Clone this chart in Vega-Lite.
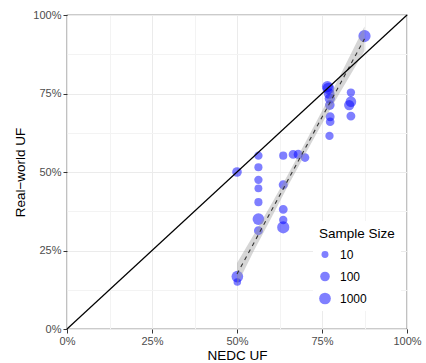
{
  "$schema": "https://vega.github.io/schema/vega-lite/v6.json",
  "width": 340,
  "height": 314,
  "autosize": {"type": "none"},
  "padding": {"left": 67, "top": 15, "right": 19, "bottom": 34},
  "background": "white",
  "config": {
    "font": "Liberation Sans",
    "view": {"stroke": "#333333", "strokeWidth": 1.2},
    "axis": {
      "domain": false,
      "labelFont": "Liberation Sans",
      "labelFontSize": 11,
      "labelColor": "#4d4d4d",
      "tickColor": "#333333",
      "tickSize": 4,
      "labelPadding": 2,
      "titleFont": "Liberation Sans",
      "titleFontSize": 13.5,
      "titleFontWeight": "normal",
      "titleColor": "#000000"
    }
  },
  "datasets": {
    "points": [
      {"x": 50, "y": 50, "n": 100},
      {"x": 56.3, "y": 55.2, "n": 30},
      {"x": 56.3, "y": 51.5, "n": 25},
      {"x": 56.3, "y": 47.5, "n": 30},
      {"x": 56.3, "y": 44.8, "n": 20},
      {"x": 56.3, "y": 40.4, "n": 25},
      {"x": 56.3, "y": 35, "n": 1000},
      {"x": 56.3, "y": 31.3, "n": 50},
      {"x": 63.6, "y": 55.2, "n": 25},
      {"x": 63.6, "y": 45.9, "n": 60},
      {"x": 63.6, "y": 38.1, "n": 50},
      {"x": 63.6, "y": 34.7, "n": 30},
      {"x": 63.6, "y": 32.4, "n": 2000},
      {"x": 66.5, "y": 55.6, "n": 50},
      {"x": 68, "y": 55.6, "n": 60},
      {"x": 70, "y": 54.6, "n": 40},
      {"x": 50.1, "y": 16.7, "n": 1000},
      {"x": 50.1, "y": 15, "n": 15},
      {"x": 87.5, "y": 93.3, "n": 2000},
      {"x": 76.9, "y": 76.6, "n": 1000},
      {"x": 76.6, "y": 77.2, "n": 500},
      {"x": 77.1, "y": 75, "n": 300},
      {"x": 77.3, "y": 73.4, "n": 200},
      {"x": 77.3, "y": 71.3, "n": 100},
      {"x": 77.4, "y": 67.6, "n": 50},
      {"x": 77.4, "y": 66, "n": 40},
      {"x": 77.2, "y": 61.5, "n": 30},
      {"x": 83.5, "y": 75.3, "n": 30},
      {"x": 83.5, "y": 72.4, "n": 300},
      {"x": 83, "y": 71.3, "n": 200},
      {"x": 83.5, "y": 67.8, "n": 50}
    ],
    "band": [
      {"x": 50, "y": 14, "y2": 21},
      {"x": 55, "y": 25, "y2": 30.2},
      {"x": 60, "y": 35.2, "y2": 39.6},
      {"x": 65, "y": 45.6, "y2": 49.2},
      {"x": 70, "y": 55.6, "y2": 59.2},
      {"x": 75, "y": 65.4, "y2": 69.4},
      {"x": 80, "y": 74.8, "y2": 80},
      {"x": 87.5, "y": 88.5, "y2": 96.3}
    ],
    "fit": [
      {"x": 50, "y": 17.5},
      {"x": 87.5, "y": 92.4}
    ],
    "diag": [
      {"x": 0, "y": 0},
      {"x": 100, "y": 100}
    ]
  },
  "encoding": {
    "x": {
      "field": "x",
      "type": "quantitative",
      "scale": {"domain": [0, 100], "nice": false, "zero": false},
      "axis": {
        "title": "NEDC UF",
        "values": [0, 12.5, 25, 37.5, 50, 62.5, 75, 87.5, 100],
        "labelExpr": "datum.value % 25 === 0 ? datum.value + '%' : ''",
        "tickOpacity": {"condition": {"test": "datum.value % 25 === 0", "value": 1}, "value": 0},
        "gridColor": {"condition": {"test": "datum.value % 25 === 0", "value": "#ebebeb"}, "value": "#f3f3f3"},
        "titlePadding": 2,
        "labelFlush": false
      }
    },
    "y": {
      "field": "y",
      "type": "quantitative",
      "scale": {"domain": [0, 100], "nice": false, "zero": false},
      "axis": {
        "title": "Real−world UF",
        "values": [0, 12.5, 25, 37.5, 50, 62.5, 75, 87.5, 100],
        "labelExpr": "datum.value % 25 === 0 ? datum.value + '%' : ''",
        "tickOpacity": {"condition": {"test": "datum.value % 25 === 0", "value": 1}, "value": 0},
        "gridColor": {"condition": {"test": "datum.value % 25 === 0", "value": "#ebebeb"}, "value": "#f3f3f3"},
        "titlePadding": 5,
        "labelFlush": false
      }
    }
  },
  "layer": [
    {
      "data": {"name": "points"},
      "mark": {"type": "circle", "color": "#0000ff", "opacity": 0.5, "strokeWidth": 0},
      "encoding": {
        "size": {
          "field": "n",
          "type": "quantitative",
          "scale": {"type": "log", "domain": [1, 10000], "range": [5, 180]},
          "legend": {
            "title": "Sample Size",
            "values": [10, 100, 1000],
            "format": "d",
            "orient": "none",
            "legendX": 246,
            "legendY": 206,
            "padding": 6,
            "fillColor": "white",
            "titleFontSize": 13.5,
            "titleFontWeight": "normal",
            "titleColor": "#000000",
            "titlePadding": 8,
            "labelFontSize": 12,
            "labelColor": "#000000",
            "labelOffset": 9,
            "rowPadding": 10,
            "symbolFillColor": "#0000ff",
            "symbolOpacity": 0.5,
            "symbolStrokeWidth": 0
          }
        }
      }
    },
    {
      "data": {"name": "band"},
      "mark": {"type": "area", "color": "#999999", "opacity": 0.4},
      "encoding": {"y2": {"field": "y2"}}
    },
    {
      "data": {"name": "fit"},
      "mark": {"type": "line", "color": "#333333", "strokeWidth": 1.1, "strokeDash": [4, 4]},
      "encoding": {}
    },
    {
      "data": {"name": "diag"},
      "mark": {"type": "line", "color": "#000000", "strokeWidth": 1.2},
      "encoding": {}
    }
  ]
}
